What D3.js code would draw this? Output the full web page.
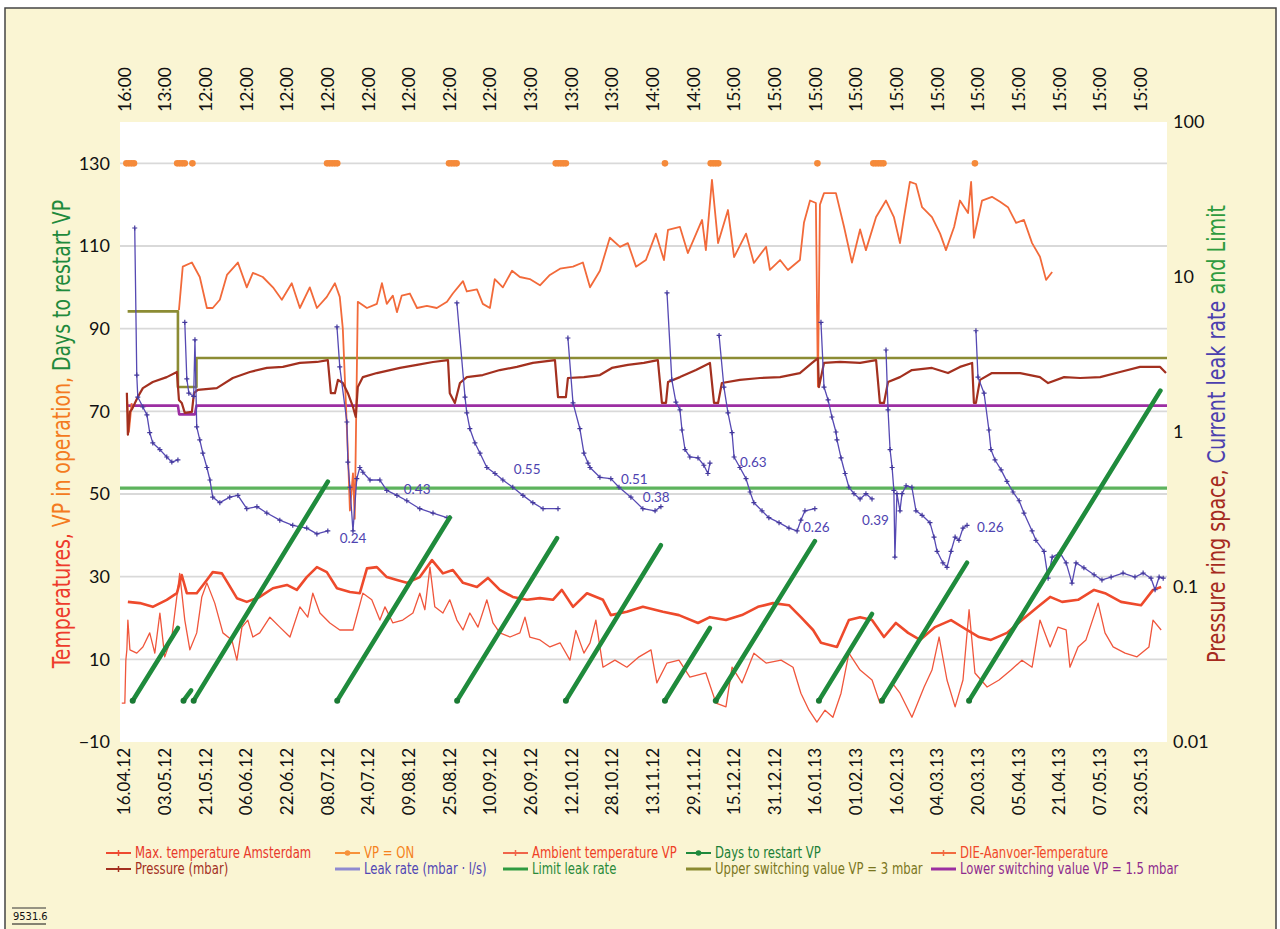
<!DOCTYPE html>
<html>
<head>
<meta charset="utf-8">
<title>VP leak rate</title>
<style>
body { margin: 0; background: #fff; }
</style>
</head>
<body>
<div id="chart"></div>
<script src="https://cdn.jsdelivr.net/npm/d3@7"></script>
<script>

// x is a day index, one label every 16 days
var dateLabels = ['16.04.12','03.05.12','21.05.12','06.06.12','22.06.12','08.07.12','24.07.12','09.08.12',
  '25.08.12','10.09.12','26.09.12','12.10.12','28.10.12','13.11.12','29.11.12','15.12.12','31.12.12',
  '16.01.13','01.02.13','16.02.13','04.03.13','20.03.13','05.04.13','21.04.13','07.05.13','23.05.13'];
var timeLabels = ['16:00','13:00','12:00','12:00','12:00','12:00','12:00','12:00','12:00','12:00',
  '13:00','13:00','13:00','14:00','14:00','15:00','15:00','15:00','15:00','15:00','15:00','15:00',
  '15:00','15:00','15:00','15:00'];
var labelStep = 16;
var leftTicks = [-10, 10, 30, 50, 70, 90, 110, 130];
var rightTicks = [0.01, 0.1, 1, 10, 100];

// [day, °C]
var maxTempAms = [[-0.8,-0.6],[0.4,-0.6],[0.8,9.8],[1.2,12.3],[1.6,19.5],[2.4,12.3],[5.1,11.5],[7.5,13],
  [10.2,16.4],[12.2,11.5],[14.2,21.2],[16.1,10.6],[18.9,15.4],[22,30.8],[24,19.5],[26,12.3],[28.7,16.4],
  [30.7,25.1],[32.7,28.5],[35.8,23.6],[39,16.4],[42.5,14.7],[44.5,9.8],[46.5,17.8],[48.8,19.5],[50.8,15.4],
  [53.5,16.4],[57.5,20.2],[61.4,17.8],[65.4,15.4],[69.3,22.7],[72.4,20.2],[74.4,26],[77.2,21.2],[81.1,18.8],
  [85,17.1],[90.2,17.1],[94.1,26],[97.6,24.4],[100.8,19.5],[102.8,22.7],[105.9,18.8],[109.8,19.5],
  [113.8,21.2],[116.5,26],[118.5,22],[120.5,32.3],[122.4,22.7],[125.6,21.2],[128.3,24.4],[131.1,19.5],
  [133.5,17.1],[136.2,21.2],[139.4,17.8],[142.9,24.4],[145.3,18.8],[148,16.4],[152,15.4],[155.9,16.4],
  [157.9,20.2],[159.8,15.4],[163.8,14.7],[167.7,13],[171.7,14],[175.6,9.8],[177.9,17],[181.1,11.5],
  [183.5,14],[185.8,19.5],[188.6,8.1],[193.3,9.8],[198,8.1],[202.8,10.6],[207.5,12.3],[209.8,4.3],
  [213.8,9.1],[218.5,9.8],[222.8,5.7],[229.1,6.7],[233.1,-0.6],[237,-1.5],[239.4,8.1],[243.3,4.3],
  [248,11.5],[252.8,9.1],[258.7,9.8],[263.4,8.1],[266.5,1.8],[269.7,-2.3],[272.8,-5.2],[276,-2.3],
  [279.1,-4],[282.3,1.8],[285.4,11.5],[289.8,7.4],[294.5,5],[297.6,-0.6],[302.4,4.3],[305.5,1.8],
  [310.2,-4],[315,3.3],[318.1,7.4],[320.9,15.4],[324,5],[327.2,-1.5],[330.3,5],[332.7,22],[335,6.7],
  [339.8,3.3],[344.5,5],[349.2,7.4],[353.5,9.8],[357.5,8.1],[360.6,19.5],[364.6,13],[367.7,17.8],
  [370.9,17.1],[372.4,8.1],[375.6,13],[378.7,14.7],[383.5,23.6],[386.2,16.4],[389.4,13],[394.1,11.5],
  [398.8,10.6],[403.5,13],[405.1,19.5],[408.3,17.1]];

var ambientTemp = [[1.6,23.9],[6.3,23.6],[11.4,22.7],[16.9,24.4],[20.9,26],[22.8,30.4],[24.8,26],[28.7,26],
  [32.7,29.2],[35,31.1],[38.6,30.8],[40.9,28.5],[44.5,24.8],[48.4,23.9],[53.5,25.1],[58.7,27.2],[64.2,28],
  [68.1,26.8],[72,29.9],[76,32.3],[79.9,31.1],[83.9,27.2],[89,26.3],[92.9,26],[95.7,32],[99.6,32.3],
  [103.5,29.9],[107.5,29.2],[111.4,28.5],[116.5,29.9],[121.3,34],[125.6,30.8],[129.5,31.6],[133.5,28.5],
  [139,27.5],[143.3,29.7],[148,26.8],[153.1,25.1],[158.7,24.4],[163.8,24.8],[168.9,24.4],[172.4,26.8],
  [176.8,22.7],[182.3,26],[188.6,24.4],[191.7,20.7],[198,21.5],[204.3,22.7],[212.2,21.5],[218.5,20.7],
  [226,18.8],[230.7,20.2],[237,19.5],[243.3,20.7],[249.6,22.7],[255.5,23.6],[261.8,23.1],[266.5,20.2],
  [271.3,17.1],[274.4,14],[280.7,13],[285.4,19.5],[289.8,20.2],[294.5,19.5],[299.2,15.4],[303.9,18.8],
  [308.7,16.4],[313.4,14.7],[319.3,17.8],[325.6,19.5],[331.9,17.1],[336.6,15.4],[341.3,14.7],[347.6,16.4],
  [353.5,19.5],[359.8,22.7],[364.6,25.1],[369.3,23.9],[375.6,24.4],[381.9,26.8],[386.2,26],[392.5,23.9],
  [400.4,23.1],[405.1,26.8],[408.3,27.5]];

var dieTemp = [[1.2,74],[2,65],[3.1,72],[4,null],
  [21.7,94.5],[23.2,105],[26.8,106],[29.9,102.5],[32.7,95],[35,95],[37.8,97],[40.6,103],[44.9,106],
  [48.4,100],[50.8,103.5],[54.7,102.5],[58.7,100],[62.2,97],[66.1,101],[69.3,95],[73.2,100],[76,95],
  [79.9,97.7],[83.1,101],[85,97.7],[86.2,90],[88.2,60],[89,46],[90.2,55],[90.9,44],[92.1,96.5],[95.7,95],
  [99.6,96],[101.6,101],[103.5,96],[105.9,98],[107.5,94],[109.4,98],[112.6,98.5],[115.4,95],[119.3,95.5],
  [123.2,95],[127.2,96.5],[129.5,98.5],[133.5,101.5],[135,99],[139,99.5],[141.3,96],[144.1,95],[146,102],
  [149.2,100],[152.8,104],[155.9,102.5],[159.8,102],[163.8,100.5],[167.7,103],[171.7,104.5],[176.8,105],
  [180.7,106],[183.5,100],[187.4,104],[191.3,112],[195.3,109.8],[198.4,110.7],[201.6,105],[205.5,106.6],
  [209.4,113],[212.6,106.6],[214.2,113.9],[218.9,114.6],[222,108.3],[227.6,116.3],[229.1,109],[231.5,126],
  [233.9,110.7],[237.8,118.7],[240.2,107.3],[244.9,113],[248,105.9],[252.8,109.8],[254.3,104.2],
  [258.3,106.6],[261.4,104.2],[266.1,106.6],[267.7,115.6],[270.1,121],[272.4,120.4],[273.2,76],[274,120],
  [275.6,122.8],[280.3,122.8],[283.5,114.6],[286.6,106],[289.8,114],[292.1,109],[296.1,117],[300,121],
  [303.1,117],[305.5,110.7],[307.1,117],[309.4,125.5],[311.8,125],[314.2,119.4],[318.1,117],[321.3,113],
  [323.6,109],[326.8,114.6],[329.1,121],[332.3,118],[333.5,125.5],[334.6,112],[337.8,121],[341.7,121.9],
  [344.9,120.7],[348,119.4],[351.2,115.6],[354.3,116.3],[357.5,110.7],[360.6,107.4],[363,101.8],[365.4,103.7]];

// days the vacuum pump ran (drawn at 130)
var vpOnDays = [1,2,3,4, 21,22,23,24, 27, 80,81,82,83,84, 128,129,130,131, 170,171,172,173,174,
  213, 231,232,233,234, 273, 295,296,297,298,299, 335];
var vpOnLevel = 130;

// days since restart, start and end of each run
var restartDays = [
  [[3.5,0],[21.3,17.6]], [[23.5,0],[26.5,2.5]], [[27.5,0],[80.3,53]], [[84,0],[128.3,44.3]],
  [[131.2,0],[170.5,39.3]], [[174,0],[211.4,37.6]], [[213,0],[230.7,17.6]], [[233,0],[272,38.6]],
  [[273.6,0],[294.5,21]], [[298.4,0],[331.9,33.4]], [[332.7,0],[408,75]]];

// [day, mbar]
var pressure = [[1.2,1.79],[1.6,0.96],[2.4,1.35],[3.2,1.4],[5.5,1.68],[7.5,1.92],[11.4,2.1],[16.9,2.26],
  [20.9,2.44],[21.7,1.61],[22.8,1.54],[24,1.33],[26.8,1.35],[27.6,1.78],[29.1,1.87],[36.6,1.92],[42.9,2.23],
  [49.6,2.44],[56.3,2.59],[62.6,2.63],[69.3,2.79],[76,2.83],[80.3,2.91],[81.5,1.78],[83.1,1.78],[84.3,2.17],
  [86.2,2.07],[88.2,1.78],[90.2,1.45],[91.3,1.25],[92.1,1.95],[94.1,2.26],[99.6,2.4],[108.7,2.59],
  [115.4,2.71],[121.7,2.83],[127.6,2.91],[128.3,1.78],[130.3,1.54],[132.3,2.07],[135,2.26],[141.3,2.33],
  [148,2.51],[154.7,2.63],[161,2.79],[169.7,2.91],[170.9,1.68],[174,1.68],[174.8,2.23],[181.1,2.26],
  [187.4,2.33],[192.1,2.59],[198.4,2.71],[204.7,2.79],[210.2,2.91],[211.8,1.54],[213.4,1.54],[214.2,2.1],
  [218.9,2.26],[225.2,2.51],[230.7,2.79],[232.3,1.54],[233.9,1.54],[235.4,2.07],[242.5,2.17],[250.4,2.23],
  [258.3,2.26],[266.1,2.4],[270.9,2.79],[273.2,3.0],[273.6,1.95],[275.6,2.79],[281.9,2.83],[289.8,2.79],
  [296.1,2.91],[297.6,1.54],[299.2,1.54],[300.8,2.1],[305.5,2.26],[310.2,2.51],[318.1,2.59],[324.4,2.4],
  [329.1,2.63],[333.9,2.79],[334.6,1.54],[335.4,1.54],[337,2.17],[341.7,2.4],[352.8,2.4],[360.6,2.26],
  [363.8,2.07],[370.1,2.26],[376.4,2.23],[384.3,2.26],[392.1,2.44],[400,2.63],[407.9,2.63],[410.2,2.4]];

// [day, mbar·l/s], null = gap while pump runs
var leakRate = [[4.3,20.7],[5.1,2.33],[5.5,1.68],[7.5,1.45],[9.1,1.29],[10.2,0.99],[11.4,0.85],[14.2,0.77],
  [16.9,0.69],[18.9,0.64],[21.3,0.66],[22,null],
  [24,5.1],[24.8,2.2],[25.6,1.78],[27.5,1.7],[28,3.93],[28.7,1.08],[29.9,0.89],[31.1,0.73],[32.7,0.59],
  [33.9,0.49],[35,0.38],[37.8,0.35],[41.7,0.38],[44.9,0.39],[48.4,0.32],[52.4,0.33],[56.3,0.3],[61.4,0.27],
  [66.5,0.25],[72,0.24],[76,0.22],[80.3,0.23],[82,null],
  [83.9,4.76],[85,2.63],[87.8,1.16],[88.2,0.64],[89,0.44],[90.2,0.23],[91.7,0.5],[92.9,0.59],[94.1,0.55],
  [96.9,0.49],[100.8,0.49],[103.5,0.42],[107.5,0.39],[111.4,0.36],[116.5,0.32],[121.7,0.3],[127.2,0.28],
  [128.3,0.28],[129.5,null],
  [131.1,6.8],[134.3,1.68],[135,1.33],[136.2,1.05],[138.2,0.85],[140.2,0.73],[142.9,0.59],[146.1,0.54],
  [149.2,0.49],[153.1,0.44],[157.1,0.39],[161,0.35],[165,0.32],[170.9,0.32],[172.5,null],
  [174.8,4.04],[176.8,1.54],[179.5,1.05],[181.1,0.73],[182.7,0.63],[183.5,0.59],[187.4,0.51],[191.7,0.5],
  [194.9,0.44],[199.6,0.38],[204.3,0.32],[209.1,0.31],[211.4,0.33],[212.5,null],
  [213.8,7.9],[215.7,2.17],[217.3,1.56],[218.9,1.39],[219.7,1.03],[220.9,0.77],[222.8,0.69],[226,0.68],
  [228.3,0.61],[229.9,0.54],[230.7,0.63],[232.5,null],
  [234.3,4.2],[236.2,1.95],[237.8,1.33],[239.4,0.99],[240.2,0.69],[242.5,0.59],[244.9,0.5],[246.5,0.41],
  [248,0.35],[251.2,0.31],[253.9,0.28],[257.9,0.26],[261.8,0.24],[265,0.23],[266.5,0.27],[268.1,0.31],
  [272,0.32],[273,null],
  [274.4,5.1],[275.6,1.95],[277.2,1.61],[278.7,1.25],[280.3,1.0],[280.7,0.89],[282.3,0.68],[283.9,0.54],
  [285.4,0.44],[287.4,0.4],[289.8,0.37],[292.1,0.4],[294.5,0.37],[297,null],
  [300,3.38],[300.8,1.39],[301.6,0.77],[302.4,0.59],[303.1,0.42],[303.5,0.156],[304.3,0.4],[305.5,0.31],
  [306.3,0.4],[307.9,0.45],[310.2,0.44],[311.8,0.31],[314.2,0.29],[317.3,0.26],[318.9,0.21],[320.1,0.17],
  [322.4,0.143],[324,0.134],[325.6,0.17],[327.2,0.21],[328.7,0.2],[330.3,0.24],[331.9,0.25],[333.5,null],
  [335.4,4.5],[336.2,2.26],[338.6,1.78],[340.5,1.03],[341.3,0.77],[342.9,0.66],[345.3,0.57],[347.6,0.48],
  [350,0.41],[352.4,0.36],[354.3,0.3],[357.5,0.23],[359,0.2],[362.2,0.17],[363.8,0.114],[365.4,0.156],
  [368.5,0.166],[370.9,0.143],[373.2,0.106],[374.8,0.143],[377.9,0.133],[381.9,0.12],[385,0.111],
  [388.6,0.116],[393.3,0.123],[398,0.116],[401.2,0.123],[404.3,0.114],[405.9,0.096],[407.5,0.116],
  [409.1,0.114]];

var limitLeak = [[-1.5,0.435],[410.6,0.435]];
var upperSwitch = [[1.5,6],[21.3,6],[21.3,1.95],[28.6,1.95],[28.6,3],[410.6,3]];
var lowerSwitch = [[1.5,1.48],[21.3,1.48],[21.8,1.3],[28,1.3],[28.6,1.48],[410.6,1.48]];

// leak rate notes [day, value, text]
var leakNotes = [[85,0.207,'0.24'],[110.2,0.429,'0.43'],[153.5,0.577,'0.55'],[195.7,0.497,'0.51'],
  [204.3,0.381,'0.38'],[242.5,0.64,'0.63'],[267.3,0.244,'0.26'],[290.6,0.27,'0.39'],[335.8,0.244,'0.26']];

var legendRow1 = ['Max. temperature Amsterdam','VP = ON','Ambient temperature VP','Days to restart VP',
  'DIE-Aanvoer-Temperature'];
var legendRow2 = ['Pressure (mbar)','Leak rate (mbar \u00b7 l/s)','Limit leak rate',
  'Upper switching value VP = 3 mbar','Lower switching value VP = 1.5 mbar'];

// marker colour, text colour, marker kind
var legendStyle1 = [['#ee4a30','#e8392b','cross'],['#f7923a','#f58220','dot'],['#f0654a','#ef3f25','cross'],
  ['#1e8a3c','#1b7f36','dot'],['#f26b40','#f0482a','cross']];
var legendStyle2 = [['#a3301f','#a3301f','cross'],['#8f8ad0','#5146b4','none'],['#2f9a40','#2a8a3a','none'],
  ['#8a8a30','#7a7620','none'],['#9b2fa0','#8e2a8e','none']];
var legendCols = [106, 335, 503, 686, 931];

var W = 1280, H = 929;
var pl = 120, pr = 1167, pt = 122, pb = 742;
var tickFont = 'Lato, "Open Sans", sans-serif';
var narrowFont = '"Liberation Sans Narrow", "DejaVu Sans Condensed", "Roboto Condensed", sans-serif';
var squeeze = 0.865;  // the fallback font is wider than the original condensed face

var svg = d3.select('#chart').append('svg')
  .attr('width', W).attr('height', H);

svg.append('rect').attr('x', 5).attr('y', 8).attr('width', 1271).attr('height', 930)
  .attr('fill', '#faf5d3');
svg.append('path').attr('d', 'M5,935V8H1276V935')
  .attr('fill', 'none').attr('stroke', '#444').attr('stroke-width', 1.5);

svg.append('rect').attr('x', pl).attr('y', pt).attr('width', pr - pl).attr('height', pb - pt)
  .attr('fill', '#fff');

svg.append('defs').append('clipPath').attr('id', 'plot')
  .append('rect').attr('x', pl).attr('y', pt).attr('width', pr - pl).attr('height', pb - pt);

var x = d3.scaleLinear().domain([-1.5, 410.6]).range([pl, pr]);
var yL = d3.scaleLinear().domain([-10, 140]).range([pb, pt]);
var yR = d3.scaleLog().domain([0.01, 100]).range([pb, pt]);

// grid
svg.append('g').selectAll('line').data(leftTicks.filter(d => d > -10)).enter().append('line')
  .attr('x1', pl).attr('x2', pr)
  .attr('y1', d => yL(d)).attr('y2', d => yL(d))
  .attr('stroke', '#d9d9d9').attr('stroke-width', 1.8);

var plot = svg.append('g').attr('clip-path', 'url(#plot)');

var lineL = d3.line().defined(d => d[1] != null).x(d => x(d[0])).y(d => yL(d[1]));
var lineR = d3.line().defined(d => d[1] != null).x(d => x(d[0])).y(d => yR(d[1]));

function draw(line, data, color, w) {
  return plot.append('path').attr('d', line(data))
    .attr('fill', 'none').attr('stroke', color).attr('stroke-width', w)
    .attr('stroke-linejoin', 'round');
}

draw(lineR, limitLeak, '#5db35d', 3.2);
draw(lineR, upperSwitch, '#8c8c34', 2.6);
draw(lineR, lowerSwitch, '#9c2ea2', 2.6);

draw(lineL, maxTempAms, '#f0563c', 1.3);
draw(lineL, ambientTemp, '#ee4a2c', 2.6);
draw(lineL, dieTemp, '#f26a3a', 1.8);

draw(lineR, pressure, '#a3301f', 2.2);

draw(lineR, leakRate, '#5649b3', 1.3);
plot.append('g').selectAll('path').data(leakRate.filter(d => d[1] != null)).enter().append('path')
  .attr('d', 'M-2.5,0H2.5M0,-2.5V2.5')
  .attr('transform', d => 'translate(' + x(d[0]) + ',' + yR(d[1]) + ')')
  .attr('stroke', '#43389c').attr('stroke-width', 1.2);

restartDays.forEach(function(seg) {
  draw(lineL, seg, '#1f8b3c', 4.6).attr('stroke-linecap', 'round');
  plot.append('circle').attr('cx', x(seg[0][0])).attr('cy', yL(seg[0][1]))
    .attr('r', 3).attr('fill', '#1a7a34');
});

plot.append('g').selectAll('circle').data(vpOnDays).enter().append('circle')
  .attr('cx', d => x(d)).attr('cy', yL(vpOnLevel)).attr('r', 3.3)
  .attr('fill', '#f58a3a');

svg.append('g').selectAll('text').data(leakNotes).enter().append('text')
  .attr('x', d => x(d[0])).attr('y', d => yR(d[1])).attr('dy', '0.35em')
  .style('font-family', tickFont).style('font-size', '13.5px')
  .style('fill', '#4e43b0')
  .text(d => d[2]);

// axes
var axL = svg.append('g').attr('transform', 'translate(' + pl + ',0)')
  .call(d3.axisLeft(yL).tickValues(leftTicks).tickSize(0).tickPadding(10)
    .tickFormat(d => d < 0 ? '\u2212' + Math.abs(d) : d));
var axR = svg.append('g').attr('transform', 'translate(' + pr + ',0)')
  .call(d3.axisRight(yR).tickValues(rightTicks).tickSize(0).tickPadding(6)
    .tickFormat(d => d >= 1 ? d3.format('d')(d) : String(d)));
var dayTicks = dateLabels.map((d, i) => i * labelStep);
var axB = svg.append('g').attr('transform', 'translate(0,' + pb + ')')
  .call(d3.axisBottom(x).tickValues(dayTicks).tickSize(0).tickFormat((d, i) => dateLabels[i]));
var axT = svg.append('g').attr('transform', 'translate(0,' + pt + ')')
  .call(d3.axisTop(x).tickValues(dayTicks).tickSize(0).tickFormat((d, i) => timeLabels[i]));

[axL, axR, axB, axT].forEach(function(a) {
  a.select('.domain').remove();
  a.selectAll('text').style('font-family', tickFont).style('font-size', '18px').style('fill', '#111');
});
axB.selectAll('text').attr('transform', 'rotate(-90)').attr('text-anchor', 'end')
  .attr('x', -6).attr('y', 0).attr('dy', '0.36em').style('font-size', '17px');
axT.selectAll('text').attr('transform', 'rotate(-90)').attr('text-anchor', 'start')
  .attr('x', 10).attr('y', 0).attr('dy', '0.36em').style('font-size', '17.5px');

// axis titles
var tl = svg.append('text').attr('transform', 'translate(70,434) rotate(-90) scale(0.875,1)')
  .attr('text-anchor', 'middle')
  .style('font-family', narrowFont).style('font-size', '24px');
tl.append('tspan').style('fill', '#ee3b2b').text('Temperatures, ');
tl.append('tspan').style('fill', '#f47b20').text('VP in operation, ');
tl.append('tspan').style('fill', '#1f8a3c').text('Days to restart VP');

var tr = svg.append('text').attr('transform', 'translate(1225,434) rotate(-90) scale(0.887,1)')
  .attr('text-anchor', 'middle')
  .style('font-family', narrowFont).style('font-size', '24px');
tr.append('tspan').style('fill', '#a52a1e').text('Pressure ring space, ');
tr.append('tspan').style('fill', '#4b3fae').text('Current leak rate ');
tr.append('tspan').style('fill', '#2e9b3e').text('and Limit');

// legend
[[legendRow1, legendStyle1], [legendRow2, legendStyle2]].forEach(function(row, r) {
  var yy = 853 + r * 16;
  row[0].forEach(function(label, c) {
    var st = row[1][c];
    var x0 = legendCols[c];
    var g = svg.append('g');
    g.append('line').attr('x1', x0).attr('x2', x0 + 25).attr('y1', yy).attr('y2', yy)
      .attr('stroke', st[0]).attr('stroke-width', st[2] == 'none' ? 3 : 2);
    if (st[2] == 'dot') {
      g.append('circle').attr('cx', x0 + 12.5).attr('cy', yy).attr('r', 2.8).attr('fill', st[0]);
    } else if (st[2] == 'cross') {
      g.append('path').attr('d', 'M' + (x0 + 12.5) + ',' + (yy - 3) + 'v6')
        .attr('stroke', st[0]).attr('stroke-width', 1.5);
    }
    g.append('text').attr('transform', 'translate(' + (x0 + 29) + ',' + yy + ') scale(' + squeeze + ',1)')
      .attr('dy', '0.35em')
      .style('font-family', narrowFont).style('font-size', '15px').style('fill', st[1])
      .text(label);
  });
});

// figure number
svg.append('text').attr('x', 13).attr('y', 920)
  .style('font-family', narrowFont).style('font-size', '11px').style('fill', '#111')
  .text('9531.6');
svg.append('line').attr('x1', 12).attr('x2', 46).attr('y1', 908).attr('y2', 908)
  .attr('stroke', '#333').attr('stroke-width', 1);
svg.append('line').attr('x1', 12).attr('x2', 46).attr('y1', 924).attr('y2', 924)
  .attr('stroke', '#111').attr('stroke-width', 1.2);

</script>
</body>
</html>
